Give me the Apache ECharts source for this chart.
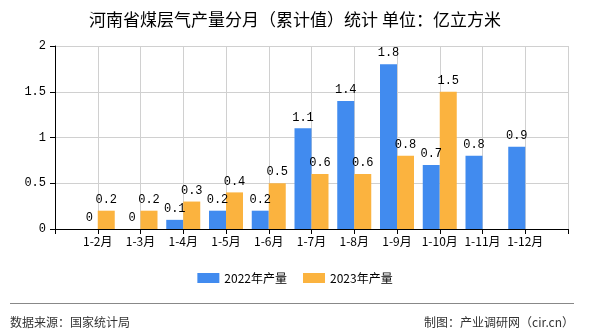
<!DOCTYPE html>
<html>
<head>
<meta charset="utf-8">
<script src="https://cdn.jsdelivr.net/npm/echarts@6/dist/echarts.min.js"></script>
<style>
html,body{margin:0;padding:0;background:#fff;}
#c{width:590px;height:330px;}
</style>
</head>
<body>
<div id="c"></div>
<script>
const titleText = '河南省煤层气产量分月（累计值）统计 单位：亿立方米';
const categories = ['', '1-2月', '1-3月', '1-4月', '1-5月', '1-6月', '1-7月', '1-8月', '1-9月', '1-10月', '1-11月', '1-12月', ''];
const series2022 = [null, 0, 0, 0.1, 0.2, 0.2, 1.1, 1.4, 1.8, 0.7, 0.8, 0.9, null];
const series2023 = [null, 0.2, 0.2, 0.3, 0.4, 0.5, 0.6, 0.6, 0.8, 1.5, null, null, null];
const seriesNames = ['2022年产量', '2023年产量'];
const sourceText = '数据来源：国家统计局';
const makerText = '制图：产业调研网（cir.cn）';

const cjk = '"Noto Sans CJK SC", sans-serif';
const mono = '"Liberation Mono", "DejaVu Sans Mono", monospace';
const chart = echarts.init(document.getElementById('c'), null, {renderer: 'canvas'});
const labelStyle = {show: true, position: 'top', color: '#000', fontSize: 12, fontFamily: mono, distance: 5};
chart.setOption({
  animation: false,
  backgroundColor: '#fff',
  title: {
    text: titleText, left: 'center', top: 6,
    textStyle: {fontSize: 17, fontWeight: 'normal', color: '#000', fontFamily: cjk}
  },
  legend: {
    data: seriesNames, left: 'center', top: 267,
    itemWidth: 22, itemHeight: 10, itemGap: 16,
    icon: 'rect',
    textStyle: {fontSize: 12, color: '#000', fontFamily: cjk}
  },
  grid: {left: 55, right: 22, top: 46, bottom: 101, containLabel: false},
  xAxis: {
    type: 'category', data: categories, boundaryGap: false,
    axisLine: {lineStyle: {color: '#000', width: 1}},
    axisTick: {show: true, length: 5, lineStyle: {color: '#000'}},
    axisLabel: {color: '#000', fontSize: 12, fontFamily: cjk, interval: 0, margin: 6},
    splitLine: {show: true, lineStyle: {color: '#d0d0d0', width: 1}}
  },
  yAxis: {
    type: 'value', min: 0, max: 2, interval: 0.5,
    axisLine: {show: true, lineStyle: {color: '#000', width: 1}},
    axisTick: {show: true, length: 5, lineStyle: {color: '#000'}},
    axisLabel: {color: '#000', fontSize: 12, fontFamily: mono, margin: 9},
    splitLine: {show: true, lineStyle: {color: '#d0d0d0', width: 1}}
  },
  series: [
    {name: seriesNames[0], type: 'bar', data: series2022, barWidth: 17, barGap: '0%',
     itemStyle: {color: '#418bef'}, label: labelStyle},
    {name: seriesNames[1], type: 'bar', data: series2023, barWidth: 17, barGap: '0%',
     itemStyle: {color: '#fbb33f'}, label: labelStyle}
  ],
  graphic: [
    {type: 'line', shape: {x1: 10, y1: 303.5, x2: 574, y2: 303.5}, style: {stroke: '#888', lineWidth: 1}},
    {type: 'text', left: 10, top: 316, style: {text: sourceText, fontSize: 12, fill: '#333', fontFamily: cjk}},
    {type: 'text', right: 16, top: 316, style: {text: makerText, fontSize: 12, fill: '#333', fontFamily: cjk}}
  ]
});
</script>
</body>
</html>
